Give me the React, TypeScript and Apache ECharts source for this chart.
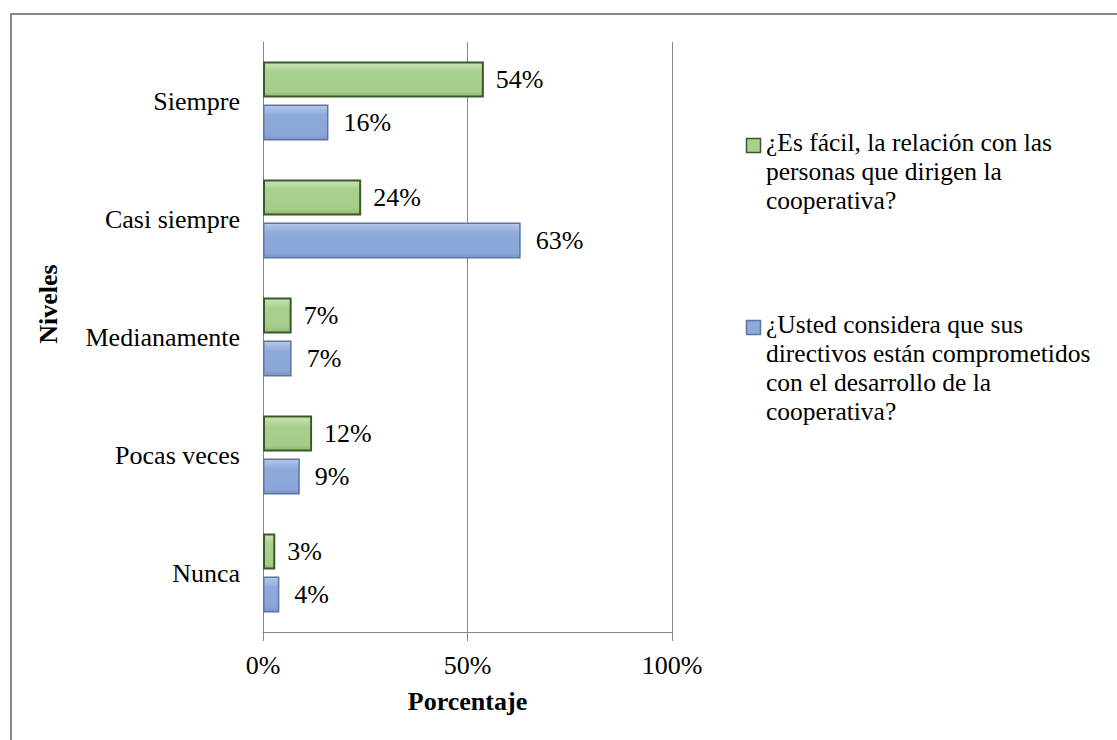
import React, { useEffect, useRef } from "react";
import * as echarts from "echarts";

// Response levels shown on the category axis, top to bottom
const categories = ["Siempre", "Casi siempre", "Medianamente", "Pocas veces", "Nunca"];

// Survey questions (series names) and their wrapped legend lines
const seriesNames = [
  "¿Es fácil, la relación con las personas que dirigen la cooperativa?",
  "¿Usted considera que sus directivos están comprometidos con el desarrollo de la cooperativa?",
];
const legendLines = [
  ["¿Es fácil, la relación con las", "personas que dirigen la", "cooperativa?"],
  ["¿Usted considera que sus", "directivos están comprometidos", "con el desarrollo de la", "cooperativa?"],
];

// Percentages per level
const relacionFacil = [54, 24, 7, 12, 3];
const directivosComprometidos = [16, 63, 7, 9, 4];

// Value axis ticks (percent)
const xTicks = [0, 50, 100];

const FONT = "Liberation Serif, serif";
const FS = 26;
const LEGEND_FS = 25.5;

const greenFill = new echarts.graphic.LinearGradient(0, 0, 0, 1, [
  { offset: 0, color: "#cbe4b9" },
  { offset: 0.28, color: "#a9d18e" },
  { offset: 0.85, color: "#a4cd88" },
  { offset: 1, color: "#8fb874" },
]);
const blueFill = new echarts.graphic.LinearGradient(0, 0, 0, 1, [
  { offset: 0, color: "#b6c8e8" },
  { offset: 0.28, color: "#8eaadb" },
  { offset: 0.85, color: "#8aa6d8" },
  { offset: 1, color: "#7894c4" },
]);

const legendColors = [
  { fill: "#a9d18e", stroke: "#3b5a27" },
  { fill: "#8eaadb", stroke: "#5c769e" },
];

export default function App() {
  const ref = useRef<HTMLDivElement>(null);

  useEffect(() => {
    if (!ref.current) return;
    const chart = echarts.init(ref.current, null, { renderer: "svg" });

    const legendTops = [128, 310];
    const legendGraphics: any[] = [];
    legendLines.forEach((lines, i) => {
      legendGraphics.push({
        type: "rect",
        shape: { x: 746.5, y: legendTops[i] + 10.5, width: 14, height: 14 },
        style: { fill: legendColors[i].fill, stroke: legendColors[i].stroke, lineWidth: 1.5 },
      });
      legendGraphics.push({
        type: "text",
        x: 766,
        y: legendTops[i],
        style: {
          text: lines.join("\n"),
          fontFamily: FONT,
          fontSize: LEGEND_FS,
          lineHeight: 29,
          fill: "#000",
          verticalAlign: "top",
          align: "left",
        },
      });
    });

    const labelStyle = {
      show: true,
      position: "right",
      formatter: "{c}%",
      fontFamily: FONT,
      fontSize: FS,
      color: "#000",
    };

    chart.setOption({
      animation: false,
      backgroundColor: "#ffffff",
      textStyle: { fontFamily: FONT },
      grid: { left: 263, right: 445, top: 42, bottom: 108, containLabel: false },
      xAxis: {
        type: "value",
        min: xTicks[0],
        max: xTicks[xTicks.length - 1],
        interval: xTicks[1] - xTicks[0],
        name: "Porcentaje",
        nameLocation: "middle",
        nameGap: 56,
        nameTextStyle: { fontFamily: FONT, fontSize: FS, fontWeight: "bold", color: "#000" },
        axisLine: { show: true, lineStyle: { color: "#868686", width: 1 } },
        axisTick: { show: true, length: 9, lineStyle: { color: "#868686", width: 1 } },
        axisLabel: {
          formatter: (v: number) => `${v}%`,
          fontFamily: FONT,
          fontSize: FS,
          color: "#000",
          margin: 20,
        },
        splitLine: { show: true, lineStyle: { color: "#868686", width: 1 } },
      },
      yAxis: {
        type: "category",
        data: categories,
        inverse: true,
        axisLine: { show: true, lineStyle: { color: "#868686", width: 1 } },
        axisTick: { show: false },
        axisLabel: { fontFamily: FONT, fontSize: FS, color: "#000", margin: 23 },
        splitLine: { show: false },
      },
      series: [
        {
          name: seriesNames[0],
          type: "bar",
          data: relacionFacil,
          barWidth: 36,
          barGap: "20%",
          itemStyle: { color: greenFill, borderColor: "#3b5a27", borderWidth: 2 },
          label: { ...labelStyle, distance: 12 },
        },
        {
          name: seriesNames[1],
          type: "bar",
          data: directivosComprometidos,
          barWidth: 36,
          barGap: "20%",
          itemStyle: { color: blueFill, borderColor: "#5c769e", borderWidth: 1.5 },
          label: { ...labelStyle, distance: 15 },
        },
      ],
      graphic: [
        {
          type: "rect",
          shape: { x: 11, y: 14, width: 1300, height: 900 },
          style: { fill: "none", stroke: "#898989", lineWidth: 2 },
          silent: true,
          z: 100,
        },
        {
          type: "text",
          x: 48,
          y: 304,
          rotation: Math.PI / 2,
          style: {
            text: "Niveles",
            fontFamily: FONT,
            fontSize: FS,
            fontWeight: "bold",
            fill: "#000",
            align: "center",
            verticalAlign: "middle",
          },
        },
        ...legendGraphics,
      ],
    });

    return () => chart.dispose();
  }, []);

  return (
    <div
      ref={ref}
      style={{ position: "absolute", left: 0, top: 0, width: 1117, height: 740 }}
    />
  );
}
